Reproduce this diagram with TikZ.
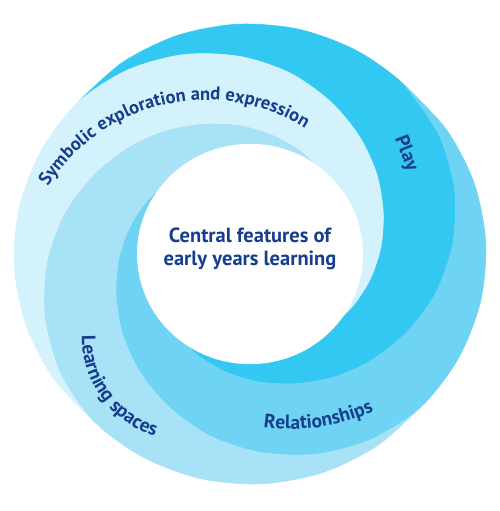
\documentclass[tikz,border=0pt]{standalone}
\usepackage{fontspec}
\setmainfont{PT Sans}
\usetikzlibrary{decorations.text}
\definecolor{play}{HTML}{33C8F1}
\definecolor{symb}{HTML}{D4F2FC}
\definecolor{space}{HTML}{A7E2F6}
\definecolor{rel}{HTML}{6FD3F3}
\definecolor{ink}{HTML}{163E8C}
\newcommand{\lblfont}{\fontsize{19.5}{21}\selectfont\bfseries}
\newcommand{\symfont}{\fontsize{18.5}{20}\selectfont\bfseries}

\begin{document}
\begin{tikzpicture}[x=1pt,y=1pt,
    band/.style={fill=#1, draw=#1, line width=0.6pt},
    curved/.style 2 args={decorate, decoration={text along path, text color=ink,
        text align=center, text={|#1|#2}}}]
        \def\Wr{113  } % white centre radius
        \def\Ys{0.975} % vertical squash of the ring

        \useasboundingbox (-250,-257) rectangle (250,254);

        % Spiral bands: one band shape, turned four times
        \begin{scope}[yscale=\Ys]
        \foreach \rot/\col in {0/play, 90/symb, 180/space, 270/rel}{
            \fill[band=\col, rotate=\rot]
                plot[smooth] coordinates {(138:232) (123:234.2) (108:235.6) (93:236)
                    (78:235.6) (63:234.2) (48:232) (33:225) (18:215) (3:203)
                    (-12:190) (-27:176) (-42:163) (-57:151) (-72:140) (-87:131)
                    (-102:123) (-117:116) (-132:110) (-147:104) (-162:98)}
                -- plot[smooth] coordinates {(-162:62) (-147:68) (-132:74) (-117:80)
                    (-102:86) (-87:92) (-72:98) (-57:104) (-42:110) (-27:116)
                    (-12:123) (3:131) (18:140) (33:151) (48:163) (63:176)
                    (78:190) (93:203) (108:215) (123:225) (138:232)}
                -- cycle;
        }
        \fill[white] (0,0) circle (\Wr); % centre
        \end{scope}

        % Labels
        \node[text=ink, font=\fontsize{20.5}{23.3}\selectfont\bfseries, align=center]
            (centre) at (0,5.4) {Central features of\\early years learning};
        \node[text=ink, font=\lblfont, rotate=-69] (play) at (156,100.5) {Play};

        \path[curved={\symfont}{Symbolic exploration and expression}]
            (-44,-34) ++(152.7:188) arc[start angle=152.7, end angle=52.7, radius=188];
        \path[curved={\lblfont}{Learning spaces}]
            (-66,-84) ++(174:102) arc[start angle=174, end angle=258, radius=102];
        \path[curved={\lblfont}{Relationships}]
            (42,24) ++(-101:199) arc[start angle=-101, end angle=-63, radius=199];
\end{tikzpicture}
\end{document}
